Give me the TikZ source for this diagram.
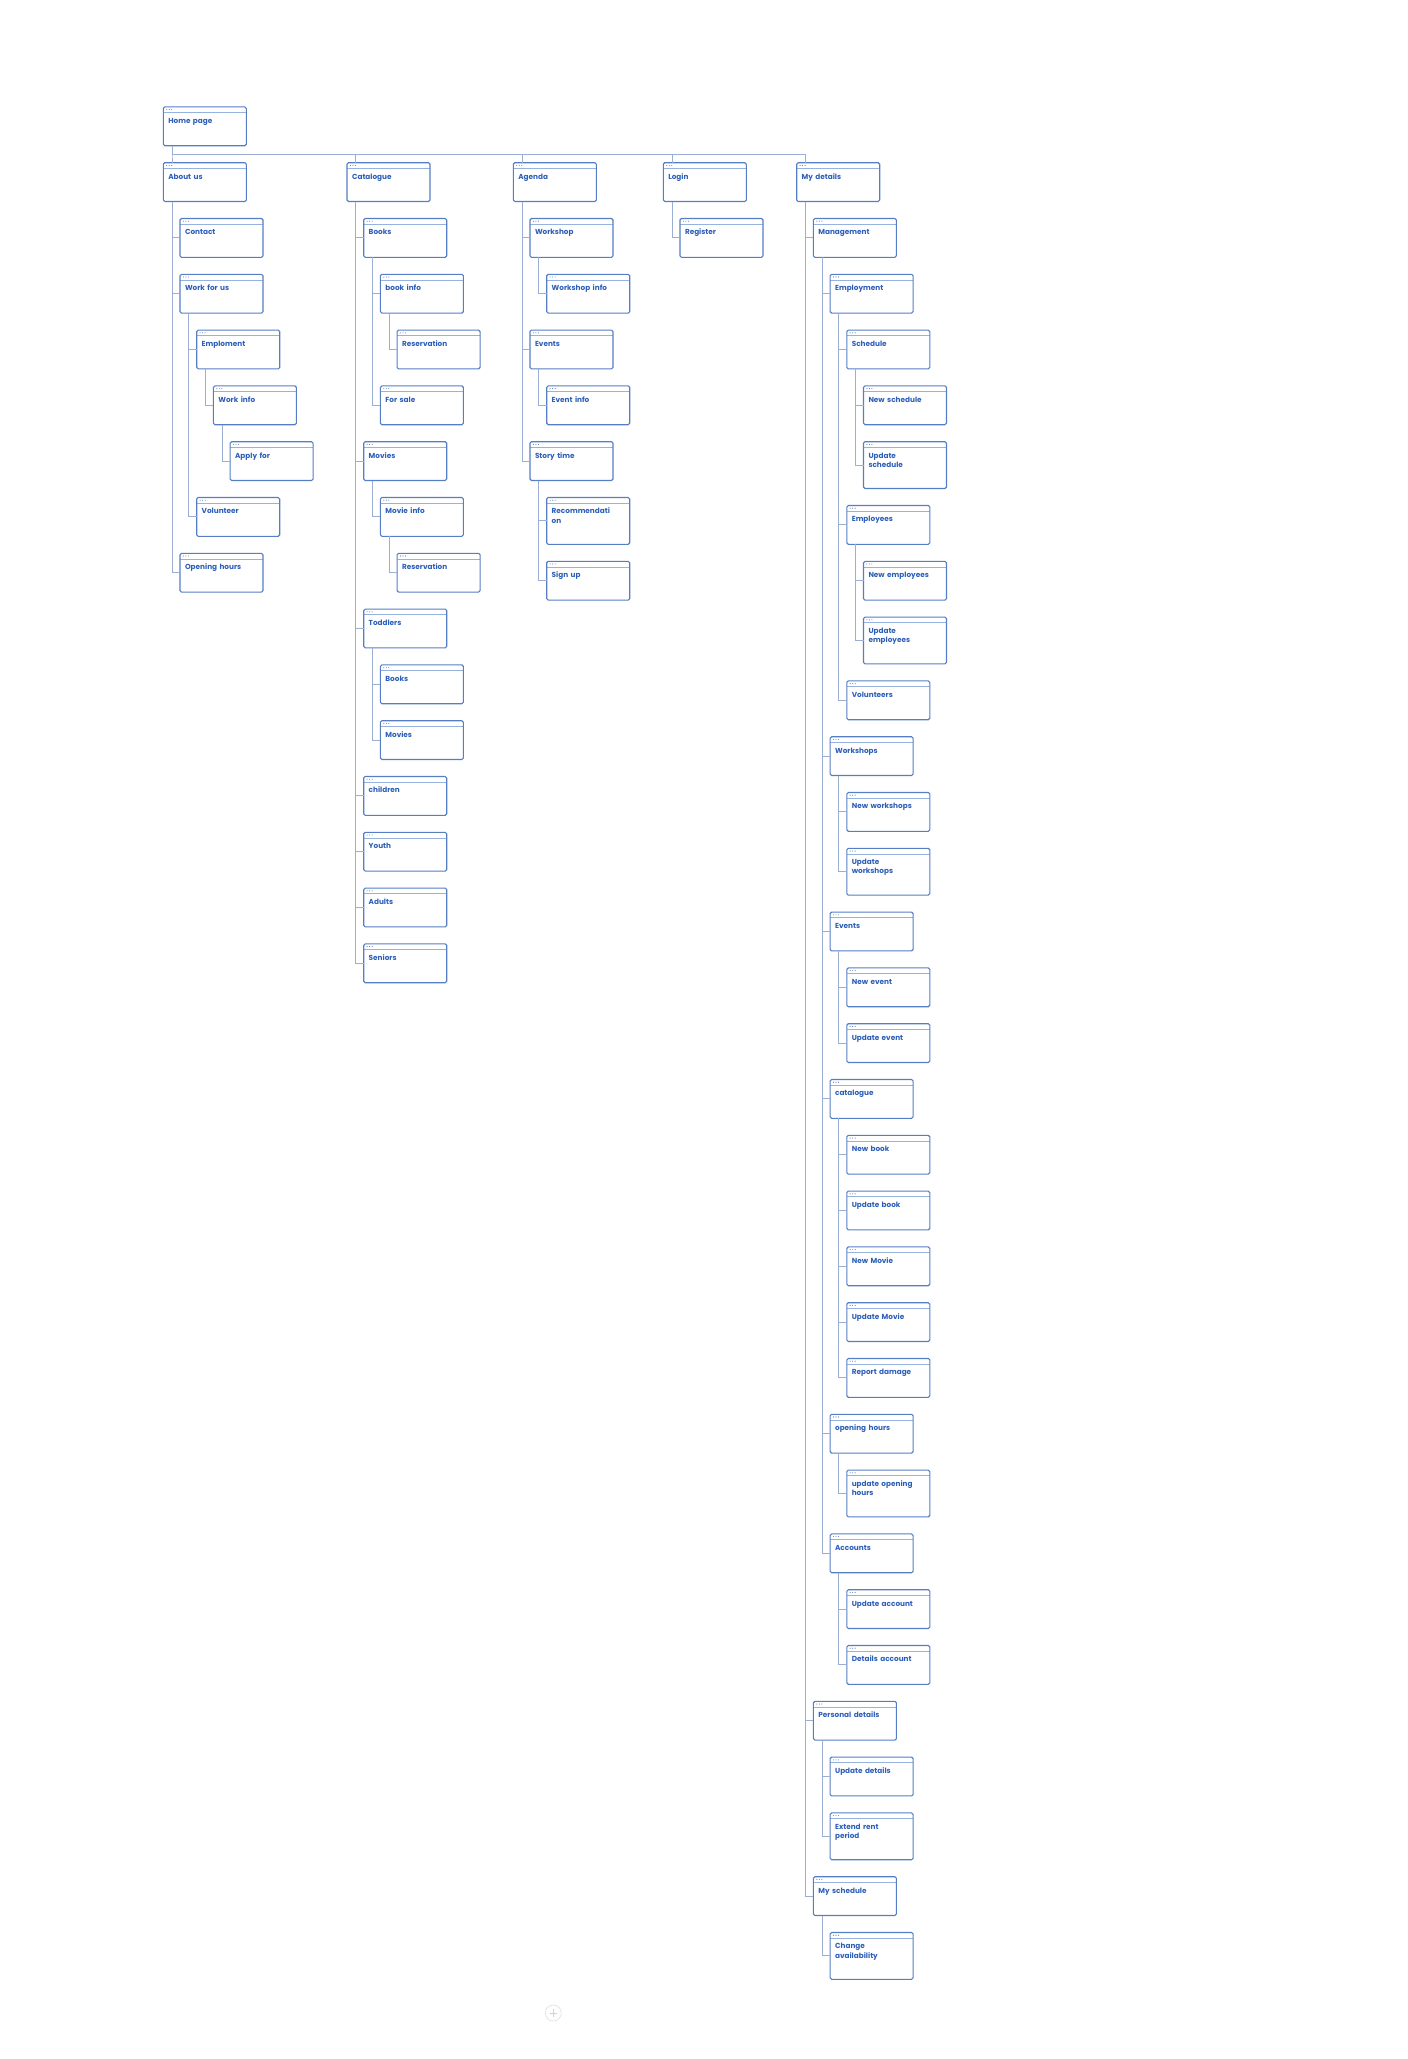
\documentclass[tikz,border=0pt]{standalone}
\usepackage{fontspec}
\setmainfont{Poppins}
\usetikzlibrary{positioning}
\definecolor{boxc}{RGB}{86,126,196}
\definecolor{txtc}{RGB}{45,95,185}
\definecolor{linkc}{RGB}{155,175,212}
\definecolor{hdrc}{RGB}{150,178,222}

\begin{document}
\begin{tikzpicture}[box/.style={draw=boxc, fill=white, rounded corners=1.5pt, line width=1.1pt, anchor=north west,
   text width=73pt, align=left, inner xsep=5pt, inner ysep=0pt, outer sep=0pt, text height=16.3pt, text depth=22.5pt,
   font=\bfseries\fontsize{7.3}{9.3}\selectfont, text=txtc,
   path picture={
     \draw[hdrc, line width=0.6pt] ([yshift=-5.6pt]path picture bounding box.north west) -- ([yshift=-5.6pt]path picture bounding box.north east);
     \fill[boxc] ([shift={(3.4pt,-2.7pt)}]path picture bounding box.north west) circle (0.55pt) ++(2.5pt,0) circle (0.55pt) ++(2.5pt,0) circle (0.55pt);
   }},
   tall/.style={box, text depth=30.5pt},
   kidof/.style={below right=17pt and 16.7pt of #1.south west},
   sibof/.style={below right=17pt and 0pt of #1.south west},
   upof/.style={below right=17pt and -16.7pt of #1.south west},
   up2of/.style={below right=17pt and -33.4pt of #1.south west},
   link/.style={draw=linkc, line width=0.9pt},
]
\useasboundingbox[fill=white] (0pt,0pt) rectangle (1408pt,-2059pt);

\node[box] (nH) at (163.3pt,-106.9pt) {Home page};
\node[box] (nA1) at (163.3pt,-162.7pt) {About us};
\node[box] (nC1) at (347pt,-162.7pt) {Catalogue};
\node[box] (nG1) at (513.3pt,-162.7pt) {Agenda};
\node[box] (nL1) at (663.3pt,-162.7pt) {Login};
\node[box] (nM1) at (796.7pt,-162.7pt) {My details};

% about us
\node[box, kidof=nA1] (nA2) {Contact};
\node[box, sibof=nA2] (nA3) {Work for us};
\node[box, kidof=nA3] (nA4) {Emploment};
\node[box, kidof=nA4] (nA5) {Work info};
\node[box, kidof=nA5] (nA6) {Apply for};
\node[box, up2of=nA6] (nA7) {Volunteer};
\node[box, upof=nA7] (nA8) {Opening hours};

% catalogue
\node[box, kidof=nC1] (nC2) {Books};
\node[box, kidof=nC2] (nC3) {book info};
\node[box, kidof=nC3] (nC4) {Reservation};
\node[box, upof=nC4] (nC5) {For sale};
\node[box, upof=nC5] (nC6) {Movies};
\node[box, kidof=nC6] (nC7) {Movie info};
\node[box, kidof=nC7] (nC8) {Reservation};
\node[box, up2of=nC8] (nC9) {Toddlers};
\node[box, kidof=nC9] (nC10) {Books};
\node[box, sibof=nC10] (nC11) {Movies};
\node[box, upof=nC11] (nC12) {children};
\node[box, sibof=nC12] (nC13) {Youth};
\node[box, sibof=nC13] (nC14) {Adults};
\node[box, sibof=nC14] (nC15) {Seniors};

% agenda
\node[box, kidof=nG1] (nG2) {Workshop};
\node[box, kidof=nG2] (nG3) {Workshop info};
\node[box, upof=nG3] (nG4) {Events};
\node[box, kidof=nG4] (nG5) {Event info};
\node[box, upof=nG5] (nG6) {Story time};
\node[tall, kidof=nG6] (nG7) {Recommendati\\on};
\node[box, sibof=nG7] (nG8) {Sign up};

% login
\node[box, kidof=nL1] (nL2) {Register};

% my details
\node[box, kidof=nM1] (nM2) {Management};
\node[box, kidof=nM2] (nM3) {Employment};
\node[box, kidof=nM3] (nM4) {Schedule};
\node[box, kidof=nM4] (nM5) {New schedule};
\node[tall, sibof=nM5] (nM6) {Update\\schedule};
\node[box, upof=nM6] (nM7) {Employees};
\node[box, kidof=nM7] (nM8) {New employees};
\node[tall, sibof=nM8] (nM9) {Update\\employees};
\node[box, upof=nM9] (nM10) {Volunteers};
\node[box, upof=nM10] (nM11) {Workshops};
\node[box, kidof=nM11] (nM12) {New workshops};
\node[tall, sibof=nM12] (nM13) {Update\\workshops};
\node[box, upof=nM13] (nM14) {Events};
\node[box, kidof=nM14] (nM15) {New event};
\node[box, sibof=nM15] (nM16) {Update event};
\node[box, upof=nM16] (nM17) {catalogue};
\node[box, kidof=nM17] (nM18) {New book};
\node[box, sibof=nM18] (nM19) {Update book};
\node[box, sibof=nM19] (nM20) {New Movie};
\node[box, sibof=nM20] (nM21) {Update Movie};
\node[box, sibof=nM21] (nM22) {Report damage};
\node[box, upof=nM22] (nM23) {opening hours};
\node[tall, kidof=nM23] (nM24) {update opening\\hours};
\node[box, upof=nM24] (nM25) {Accounts};
\node[box, kidof=nM25] (nM26) {Update account};
\node[box, sibof=nM26] (nM27) {Details account};
\node[box, up2of=nM27] (nM28) {Personal details};
\node[box, kidof=nM28] (nM29) {Update details};
\node[tall, sibof=nM29] (nM30) {Extend rent\\period};
\node[box, upof=nM30] (nM31) {My schedule};
\node[tall, kidof=nM31] (nM32) {Change\\availability};

% top level
\draw[link] ([xshift=8.7pt]nH.south west) -- ++(0,-8.3pt) -| ([xshift=8.7pt]nA1.north west);
\draw[link] ([xshift=8.7pt]nH.south west) -- ++(0,-8.3pt) -| ([xshift=8.7pt]nC1.north west);
\draw[link] ([xshift=8.7pt]nH.south west) -- ++(0,-8.3pt) -| ([xshift=8.7pt]nG1.north west);
\draw[link] ([xshift=8.7pt]nH.south west) -- ++(0,-8.3pt) -| ([xshift=8.7pt]nL1.north west);
\draw[link] ([xshift=8.7pt]nH.south west) -- ++(0,-8.3pt) -| ([xshift=8.7pt]nM1.north west);

% about us
\draw[link] ([xshift=8.7pt]nA1.south west) |- (nA2.west);
\draw[link] ([xshift=8.7pt]nA1.south west) |- (nA3.west);
\draw[link] ([xshift=8.7pt]nA1.south west) |- (nA8.west);
\draw[link] ([xshift=8.7pt]nA3.south west) |- (nA4.west);
\draw[link] ([xshift=8.7pt]nA3.south west) |- (nA7.west);
\draw[link] ([xshift=8.7pt]nA4.south west) |- (nA5.west);
\draw[link] ([xshift=8.7pt]nA5.south west) |- (nA6.west);

% catalogue
\draw[link] ([xshift=8.7pt]nC1.south west) |- (nC2.west);
\draw[link] ([xshift=8.7pt]nC1.south west) |- (nC6.west);
\draw[link] ([xshift=8.7pt]nC1.south west) |- (nC9.west);
\draw[link] ([xshift=8.7pt]nC1.south west) |- (nC12.west);
\draw[link] ([xshift=8.7pt]nC1.south west) |- (nC13.west);
\draw[link] ([xshift=8.7pt]nC1.south west) |- (nC14.west);
\draw[link] ([xshift=8.7pt]nC1.south west) |- (nC15.west);
\draw[link] ([xshift=8.7pt]nC2.south west) |- (nC3.west);
\draw[link] ([xshift=8.7pt]nC2.south west) |- (nC5.west);
\draw[link] ([xshift=8.7pt]nC3.south west) |- (nC4.west);
\draw[link] ([xshift=8.7pt]nC6.south west) |- (nC7.west);
\draw[link] ([xshift=8.7pt]nC7.south west) |- (nC8.west);
\draw[link] ([xshift=8.7pt]nC9.south west) |- (nC10.west);
\draw[link] ([xshift=8.7pt]nC9.south west) |- (nC11.west);

% agenda
\draw[link] ([xshift=8.7pt]nG1.south west) |- (nG2.west);
\draw[link] ([xshift=8.7pt]nG1.south west) |- (nG4.west);
\draw[link] ([xshift=8.7pt]nG1.south west) |- (nG6.west);
\draw[link] ([xshift=8.7pt]nG2.south west) |- (nG3.west);
\draw[link] ([xshift=8.7pt]nG4.south west) |- (nG5.west);
\draw[link] ([xshift=8.7pt]nG6.south west) |- (nG7.west);
\draw[link] ([xshift=8.7pt]nG6.south west) |- (nG8.west);

% login
\draw[link] ([xshift=8.7pt]nL1.south west) |- (nL2.west);

% my details
\draw[link] ([xshift=8.7pt]nM1.south west) |- (nM2.west);
\draw[link] ([xshift=8.7pt]nM1.south west) |- (nM28.west);
\draw[link] ([xshift=8.7pt]nM1.south west) |- (nM31.west);
\draw[link] ([xshift=8.7pt]nM2.south west) |- (nM3.west);
\draw[link] ([xshift=8.7pt]nM2.south west) |- (nM11.west);
\draw[link] ([xshift=8.7pt]nM2.south west) |- (nM14.west);
\draw[link] ([xshift=8.7pt]nM2.south west) |- (nM17.west);
\draw[link] ([xshift=8.7pt]nM2.south west) |- (nM23.west);
\draw[link] ([xshift=8.7pt]nM2.south west) |- (nM25.west);
\draw[link] ([xshift=8.7pt]nM3.south west) |- (nM4.west);
\draw[link] ([xshift=8.7pt]nM3.south west) |- (nM7.west);
\draw[link] ([xshift=8.7pt]nM3.south west) |- (nM10.west);
\draw[link] ([xshift=8.7pt]nM4.south west) |- (nM5.west);
\draw[link] ([xshift=8.7pt]nM4.south west) |- (nM6.west);
\draw[link] ([xshift=8.7pt]nM7.south west) |- (nM8.west);
\draw[link] ([xshift=8.7pt]nM7.south west) |- (nM9.west);
\draw[link] ([xshift=8.7pt]nM11.south west) |- (nM12.west);
\draw[link] ([xshift=8.7pt]nM11.south west) |- (nM13.west);
\draw[link] ([xshift=8.7pt]nM14.south west) |- (nM15.west);
\draw[link] ([xshift=8.7pt]nM14.south west) |- (nM16.west);
\draw[link] ([xshift=8.7pt]nM17.south west) |- (nM18.west);
\draw[link] ([xshift=8.7pt]nM17.south west) |- (nM19.west);
\draw[link] ([xshift=8.7pt]nM17.south west) |- (nM20.west);
\draw[link] ([xshift=8.7pt]nM17.south west) |- (nM21.west);
\draw[link] ([xshift=8.7pt]nM17.south west) |- (nM22.west);
\draw[link] ([xshift=8.7pt]nM23.south west) |- (nM24.west);
\draw[link] ([xshift=8.7pt]nM25.south west) |- (nM26.west);
\draw[link] ([xshift=8.7pt]nM25.south west) |- (nM27.west);
\draw[link] ([xshift=8.7pt]nM28.south west) |- (nM29.west);
\draw[link] ([xshift=8.7pt]nM28.south west) |- (nM30.west);
\draw[link] ([xshift=8.7pt]nM31.south west) |- (nM32.west);

% zoom button
\draw[gray!20, line width=0.8pt] (553.3pt,-2013pt) circle (8pt);
\draw[gray!35, line width=1pt] (549.5pt,-2013pt) -- (557.1pt,-2013pt) (553.3pt,-2009.2pt) -- (553.3pt,-2016.8pt);
\end{tikzpicture}
\end{document}
